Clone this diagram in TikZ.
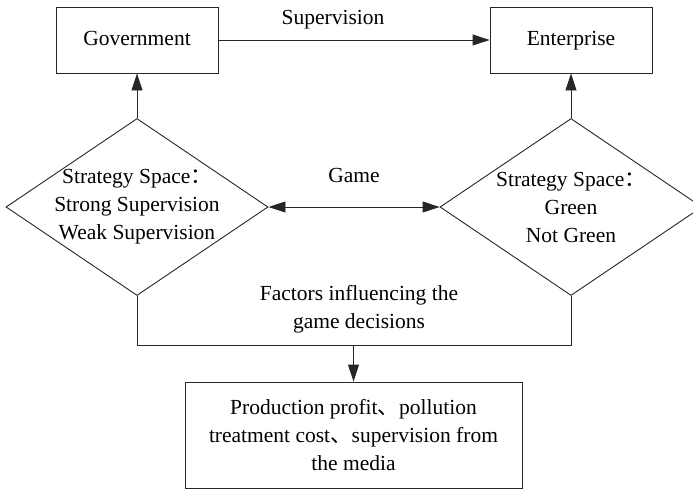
\documentclass[tikz,border=0pt]{standalone}
\usepackage{fontspec}
\setmainfont{Liberation Serif}
\newfontfamily\cjk{Noto Sans CJK SC}
\usetikzlibrary{shapes.geometric,arrows.meta}
\begin{document}
\begin{tikzpicture}[x=1pt,y=-1pt,
  every node/.style={font=\fontsize{21.5}{28}\selectfont},
  linecol/.style={draw=black!85,line width=0.9pt},
  actor/.style={linecol,rectangle,minimum width=162pt,minimum height=66pt,inner sep=0pt,text height=15pt,text depth=5pt},
  stratdiamond/.style={linecol,diamond,minimum width=262pt,minimum height=177pt,inner sep=0pt},
  factorbox/.style={linecol,rectangle,minimum width=337pt,minimum height=106pt,inner sep=0pt},
  txt/.style={align=center,inner sep=0pt},
  tip/.tip={Triangle[length=17pt,width=11pt]},
  conn/.style={linecol,-tip},
  dconn/.style={linecol,tip-tip},
  plain/.style={linecol}]
\useasboundingbox (0,0) rectangle (693,490);
\node[actor] (gov) at (137,40) {Government};
\node[actor] (ent) at (571,40) {Enterprise};
\node[stratdiamond] (sg) at (137,207) {};
\node[stratdiamond] (se) at (571,207) {};
\node[txt] (sgt) at (sg.center) {Strategy Space{\cjk ：}\\Strong Supervision\\Weak Supervision};
\node[txt] (set) at (se.center) {Strategy Space{\cjk ：}\\Green\\Not Green};
\node[factorbox] (fac) at (353.5,435) {};
\node[txt] (fact) at (fac.center) {Production profit{\cjk 、}pollution\\treatment cost{\cjk 、}supervision from\\the media};
\coordinate (jl) at (137,345);
\coordinate (jr) at (571,345);
\coordinate (jm) at (fac.north |- jl);
\draw[conn] (gov) -- node[txt,above=10pt,xshift=-21pt] (suplab) {Supervision} (ent);
\draw[conn] (sg.north) -- (gov.south);
\draw[conn] (se.north) -- (ent.south);
\draw[dconn] (sg.east) -- node[txt,above=24pt] (gamelab) {Game} (se.west);
\draw[plain] (sg.south) -- (jl) -- (jr) -- (se.south);
\draw[conn] (jm) -- (fac.north);
\node[txt] (faclab) at (359,309) {Factors influencing the\\game decisions};
\end{tikzpicture}
\end{document}
